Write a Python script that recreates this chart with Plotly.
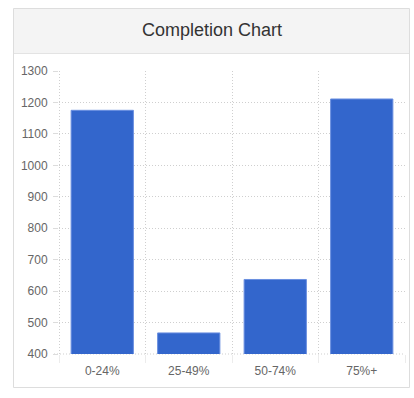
import plotly.graph_objects as go

categories = ["0-24%", "25-49%", "50-74%", "75%+"]
values = [1175, 467, 637, 1211]
y_ticks = [400, 500, 600, 700, 800, 900, 1000, 1100, 1200, 1300]

W, H = 414, 398
L, R, T, B = 59, 9, 71, 44
PW, PH = W - L - R, H - T - B

fig = go.Figure()
fig.add_trace(go.Bar(
    x=categories, y=values, width=0.72,
    marker=dict(color="#3366cc", line=dict(color="#6a8fe0", width=1)),
))

def px_x(x):
    return (x - L) / PW
def px_y(y):
    return (H - B - y) / PH

DOT = "1px,2px"
GRID = "#cfcfcf"
shapes = [
    dict(type="rect", xref="paper", yref="paper", x0=px_x(13.5), x1=px_x(409.5), y0=px_y(387.5), y1=px_y(8.5),
         line=dict(color="#dddddd", width=1), fillcolor="#ffffff", layer="below"),
    dict(type="rect", xref="paper", yref="paper", x0=px_x(14), x1=px_x(409), y0=px_y(53), y1=px_y(9),
         line=dict(width=0), fillcolor="#f4f4f4", layer="below"),
    dict(type="line", xref="paper", yref="paper", x0=px_x(14), x1=px_x(409), y0=px_y(53.5), y1=px_y(53.5),
         line=dict(color="#e3e3e3", width=1), layer="below"),
    # left boundary gridline and bottom baseline (dotted)
    dict(type="line", xref="paper", yref="paper", x0=px_x(59.5), x1=px_x(59.5), y0=px_y(363), y1=px_y(71),
         line=dict(color=GRID, width=1, dash=DOT), layer="below"),
    dict(type="line", xref="paper", yref="paper", x0=px_x(54), x1=px_x(405), y0=px_y(354), y1=px_y(354),
         line=dict(color=GRID, width=1, dash=DOT), layer="below"),
]

fig.update_layout(
    width=W, height=H,
    margin=dict(l=L, r=R, t=T, b=B),
    paper_bgcolor="#ffffff", plot_bgcolor="rgba(0,0,0,0)",
    showlegend=False,
    shapes=shapes,
    font=dict(family="Liberation Sans, Arial, sans-serif", color="#666666", size=12),
    annotations=[dict(text="Completion Chart", xref="paper", yref="paper", x=px_x(211.5), y=px_y(30),
                      xanchor="center", yanchor="middle", showarrow=False,
                      font=dict(size=18, color="#333333"))],
)
fig.update_xaxes(
    type="category", range=[-0.5, 3.5], tickson="boundaries",
    showgrid=True, gridcolor=GRID, griddash=DOT, gridwidth=1,
    ticks="outside", ticklen=8, tickcolor="#ececec",
    showline=False, zeroline=False, tickfont=dict(size=12, color="#666666"),
    ticklabelstandoff=8,
)
fig.update_yaxes(
    range=[400, 1300], tickvals=y_ticks,
    showgrid=True, gridcolor=GRID, griddash=DOT, gridwidth=1,
    ticks="outside", ticklen=5, tickcolor="#dcdcdc",
    showline=False, zeroline=False, tickfont=dict(size=12, color="#666666"),
    ticklabelstandoff=3,
)
fig.write_html("out.html")
